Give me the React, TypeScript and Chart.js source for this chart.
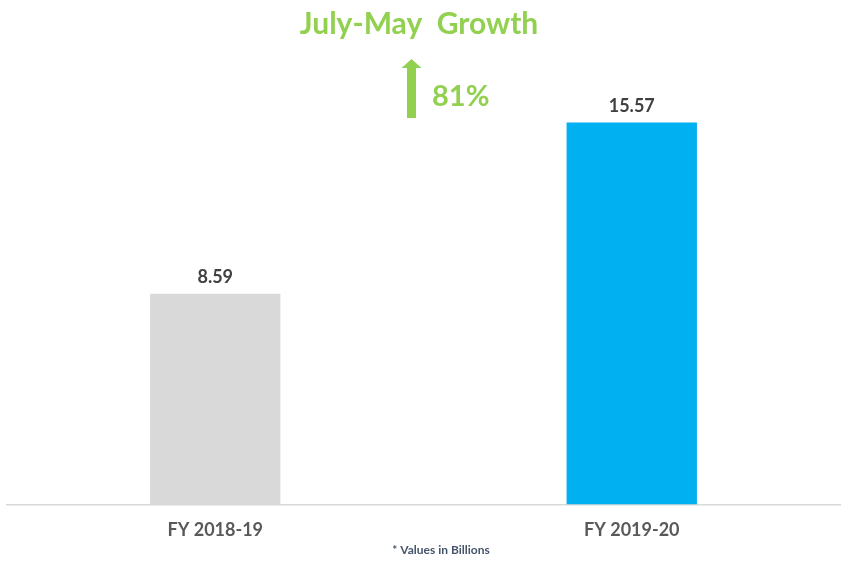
import React, { useEffect, useRef } from "react";
import { Chart, registerables } from "chart.js";

Chart.register(...registerables);

const categories = ["FY 2018-19", "FY 2019-20"];
const values = [8.59, 15.57];
const barColors = ["#D9D9D9", "#00B0F0"];
const titleText = "July-May  Growth";
const growthText = "81%";
const footnoteText = "* Values in Billions";

const FONT = "Lato, 'Open Sans', sans-serif";

const overlayPlugin = {
  id: "overlay",
  afterDraw(chart: any) {
    const ctx = chart.ctx;
    ctx.save();
    // value labels
    const meta = chart.getDatasetMeta(0);
    ctx.fillStyle = "#404040";
    ctx.font = `bold 18px ${FONT}`;
    ctx.textAlign = "center";
    ctx.textBaseline = "alphabetic";
    meta.data.forEach((el: any, i: number) => {
      ctx.fillText(values[i].toFixed(2), el.x, el.y - 11);
    });
    // title
    ctx.fillStyle = "#92D050";
    ctx.font = `bold 30px ${FONT}`;
    ctx.fillText(titleText, 419, 34);
    // arrow
    ctx.beginPath();
    ctx.moveTo(411.5, 59);
    ctx.lineTo(421.5, 68);
    ctx.lineTo(416, 68);
    ctx.lineTo(416, 118);
    ctx.lineTo(407, 118);
    ctx.lineTo(407, 68);
    ctx.lineTo(401.5, 68);
    ctx.closePath();
    ctx.fill();
    // growth
    ctx.textAlign = "left";
    ctx.font = `bold 29px ${FONT}`;
    ctx.fillText(growthText, 432, 106);
    // footnote
    ctx.textAlign = "center";
    ctx.fillStyle = "#44546A";
    ctx.font = `bold 12px ${FONT}`;
    ctx.fillText(footnoteText, 441, 554);
    ctx.restore();
  },
};

export default function App() {
  const ref = useRef<HTMLCanvasElement>(null);
  useEffect(() => {
    if (!ref.current) return;
    const chart = new Chart(ref.current, {
      type: "bar",
      data: {
        labels: categories,
        datasets: [
          {
            data: values,
            backgroundColor: barColors,
            barPercentage: 0.626,
            categoryPercentage: 0.5,
          },
        ],
      },
      options: {
        responsive: false,
        animation: false,
        layout: { padding: { left: 7, right: 26, top: 14, bottom: 14 } },
        plugins: {
          legend: { display: false },
          tooltip: { enabled: false },
          title: { display: false },
        },
        scales: {
          x: {
            grid: { display: false, drawTicks: false },
            border: { display: true, color: "#D9D9D9", width: 1.5 },
            ticks: {
              color: "#595959",
              padding: 15,
              font: { family: FONT, size: 18, weight: "bold" },
            },
          },
          y: { display: false, min: 0, max: 20 },
        },
      },
      plugins: [overlayPlugin],
    });
    return () => chart.destroy();
  }, []);
  return (
    <div style={{ position: "fixed", left: 0, top: 0, width: 866, height: 570, background: "#fff" }}>
      <canvas ref={ref} width={866} height={570} />
    </div>
  );
}
